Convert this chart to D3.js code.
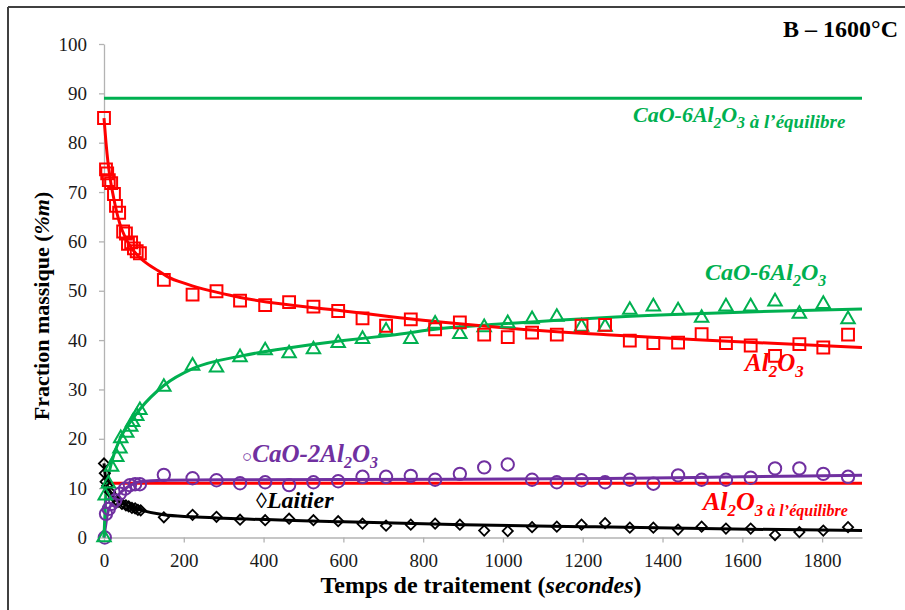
<!DOCTYPE html>
<html>
<head>
<meta charset="utf-8">
<script src="https://cdn.jsdelivr.net/npm/d3@7"></script>
<style>
  html, body { margin: 0; padding: 0; background: #fff; }
  svg { display: block; font-family: "Liberation Serif", "Times New Roman", serif; }
  .axis path, .axis line { stroke: #b3b3b3; stroke-width: 1.3; }
  .axis text { font-size: 19px; fill: #1a1a1a; font-family: "Liberation Serif", serif; }
</style>
</head>
<body>
<div id="chart"></div>
<script>
// measured points: [time (s), mass fraction (%m)]
const al2o3Points = [
  [0, 85], [5, 74.6], [8, 73.8], [12, 72.4], [18, 71.8], [25, 69.6], [30, 67.2],
  [38, 65.8], [48, 62.0], [55, 61.6], [60, 59.5], [68, 59.8], [75, 58.6], [82, 58.0], [90, 57.6],
  [150, 52.2], [222, 49.2], [282, 49.9], [341, 48.0], [404, 47.1], [464, 47.7], [525, 46.8],
  [587, 45.9], [648, 44.4], [707, 42.9], [769, 44.2], [830, 42.2], [892, 43.6], [953, 41.1],
  [1012, 40.6], [1073, 41.5], [1135, 41.1], [1197, 42.9], [1256, 43.1], [1318, 39.9],
  [1377, 39.4], [1439, 39.5], [1498, 41.2], [1559, 39.4], [1621, 38.9], [1682, 36.8],
  [1743, 39.2], [1803, 38.5], [1865, 41.1]
];
const ca6Points = [
  [0, 0], [3, 8.5], [11, 10.9], [19, 14.3], [32, 16.3], [40, 18.0], [42, 20.1], [57, 21.2],
  [67, 22.4], [72, 23.4], [82, 24.6], [90, 25.8],
  [150, 30.5], [222, 34.8], [282, 34.4], [341, 36.5], [404, 37.9], [464, 37.3], [525, 38.1],
  [587, 39.4], [648, 40.2], [707, 41.9], [769, 40.2], [830, 43.3], [892, 41.2], [953, 42.6],
  [1012, 43.4], [1073, 44.2], [1135, 44.7], [1197, 42.7], [1256, 42.7], [1318, 46.1],
  [1377, 46.8], [1439, 46.0], [1498, 44.5], [1559, 46.8], [1621, 46.8], [1682, 47.8],
  [1743, 45.3], [1803, 47.3], [1865, 44.2]
];
const ca2Points = [
  [2, 0], [5, 4.8], [12, 5.8], [19, 6.8], [28, 7.5], [40, 8.9], [53, 9.9], [65, 10.6],
  [78, 10.8], [90, 10.8],
  [150, 12.7], [222, 12.0], [282, 11.6], [341, 11.0], [404, 11.2], [464, 10.6], [525, 11.2],
  [587, 11.4], [648, 12.3], [707, 12.3], [769, 12.5], [830, 11.7], [892, 12.9], [953, 14.2],
  [1012, 14.8], [1073, 11.7], [1135, 11.2], [1197, 11.6], [1256, 11.2], [1318, 11.7],
  [1377, 10.9], [1439, 12.6], [1498, 11.7], [1559, 11.7], [1621, 12.1], [1682, 14.0],
  [1743, 14.0], [1803, 12.9], [1865, 12.3]
];
const slagPoints = [
  [0, 15], [2, 13], [4, 11.3], [8, 10.5], [15, 9.2], [25, 8.2], [35, 7.2], [45, 6.8],
  [55, 6.5], [62, 6.3], [70, 6.0], [78, 5.9], [85, 5.6], [92, 5.5],
  [150, 4.1], [222, 4.6], [282, 4.2], [341, 3.6], [404, 3.5], [464, 3.8], [525, 3.5],
  [587, 3.3], [648, 2.8], [707, 2.4], [769, 2.6], [830, 2.8], [892, 2.6], [953, 1.4],
  [1012, 1.3], [1073, 2.1], [1135, 2.2], [1197, 2.6], [1256, 2.9], [1318, 2.0], [1377, 2.0],
  [1439, 1.6], [1498, 2.2], [1559, 1.8], [1621, 1.8], [1682, 0.5], [1743, 1.1], [1803, 1.4],
  [1865, 2.1]
];

// fitted trend curves
const al2o3Fit = [
  [0, 85], [5, 80], [10, 76], [15, 73], [25, 68.5], [40, 63.5], [55, 60.5], [75, 58],
  [100, 56], [137, 54], [160, 52.8], [210, 51.3], [345, 48.6], [600, 45.9], [850, 43.6],
  [1000, 42.5], [1260, 41.1], [1500, 40], [1900, 38.5]
];
const ca6Fit = [
  [0, 0], [5, 9], [10, 12], [20, 15.5], [30, 18], [40, 20], [60, 22.7], [90, 26],
  [150, 30.8], [225, 34.3], [345, 36.8], [470, 38.5], [600, 39.9], [720, 41], [850, 42.4],
  [1000, 43.3], [1260, 44.6], [1500, 45.4], [1700, 45.9], [1900, 46.3]
];
const ca2Fit = [
  [0, 0], [10, 5.2], [20, 6.8], [40, 9], [60, 10.3], [90, 11.3], [150, 11.6], [300, 11.7],
  [900, 11.8], [1260, 11.95], [1600, 12.3], [1900, 12.6]
];
const slagFit = [
  [0, 15], [5, 11.5], [10, 10.2], [20, 8.8], [40, 7.2], [60, 6.4], [90, 5.6], [150, 4.6],
  [220, 4.2], [300, 3.9], [600, 3.2], [900, 2.6], [1200, 2.2], [1500, 1.8], [1900, 1.4]
];

// equilibrium levels
const ca6Equilibrium = [[0, 89], [1900, 89]];
const al2o3Equilibrium = [[0, 11], [1900, 11]];

const xTicks = [0, 200, 400, 600, 800, 1000, 1200, 1400, 1600, 1800];
const yTicks = [0, 10, 20, 30, 40, 50, 60, 70, 80, 90, 100];

const GREEN = "#00b050";
const RED = "#ff0000";
const PURPLE = "#7030a0";
const BLACK = "#000000";

const width = 905;
const height = 610;

const svg = d3.select("#chart").append("svg")
  .attr("width", width)
  .attr("height", height);

svg.append("rect").attr("width", width).attr("height", height).attr("fill", "#fff");

// frame (only top and left edges are visible in the crop)
svg.append("line").attr("x1", 8).attr("x2", width).attr("y1", 7).attr("y2", 7)
  .attr("stroke", "#404040").attr("stroke-width", 2);
svg.append("line").attr("x1", 8).attr("x2", 8).attr("y1", 7).attr("y2", height)
  .attr("stroke", "#404040").attr("stroke-width", 2);

const x = d3.scaleLinear().domain([0, 1900]).range([104, 862]);
const y = d3.scaleLinear().domain([0, 100]).range([537.5, 44]);

svg.append("g")
  .attr("class", "axis")
  .attr("transform", `translate(0,${y(0)})`)
  .call(d3.axisBottom(x).tickValues(xTicks).tickFormat(d3.format("d"))
    .tickSize(5).tickSizeOuter(0).tickPadding(11))
  .attr("font-family", "Liberation Serif");

svg.append("g")
  .attr("class", "axis")
  .attr("transform", `translate(${x(0)},0)`)
  .call(d3.axisLeft(y).tickValues(yTicks).tickFormat(d3.format("d"))
    .tickSize(5).tickSizeOuter(0).tickPadding(12))
  .attr("font-family", "Liberation Serif");

const line = d3.line()
  .x((d) => x(d[0]))
  .y((d) => y(d[1]))
  .curve(d3.curveMonotoneX);

const lines = [
  { data: ca6Equilibrium, color: GREEN },
  { data: al2o3Equilibrium, color: RED },
  { data: ca2Fit, color: PURPLE },
  { data: slagFit, color: BLACK },
  { data: ca6Fit, color: GREEN },
  { data: al2o3Fit, color: RED },
];

svg.append("g")
  .selectAll("path")
  .data(lines)
  .join("path")
  .attr("d", (s) => line(s.data))
  .attr("fill", "none")
  .attr("stroke", (s) => s.color)
  .attr("stroke-width", 3);

const markerSets = [
  { data: slagPoints, color: BLACK, shape: d3.symbolSquare, size: 52, rotate: 45, width: 1.8 },
  { data: ca2Points, color: PURPLE, shape: d3.symbolCircle, size: 120, rotate: 0, width: 2 },
  { data: ca6Points, color: GREEN, shape: d3.symbolTriangle, size: 78, rotate: 0, width: 2 },
  { data: al2o3Points, color: RED, shape: d3.symbolSquare, size: 140, rotate: 0, width: 2 },
];

markerSets.forEach((set) => {
  svg.append("g")
    .selectAll("path")
    .data(set.data)
    .join("path")
    .attr("d", d3.symbol(set.shape, set.size))
    .attr("transform", (d) => `translate(${x(d[0])},${y(d[1])}) rotate(${set.rotate})`)
    .attr("fill", "none")
    .attr("stroke", set.color)
    .attr("stroke-width", set.width);
});

// rich text labels: segments with optional subscript
function richLabel(px, py, color, segments) {
  const text = svg.append("text")
    .attr("x", px)
    .attr("y", py)
    .attr("fill", color)
    .attr("font-weight", "bold")
    .attr("font-style", "italic");
  let shifted = 0;
  segments.forEach((seg) => {
    const target = seg.sub ? 6 : 0;
    text.append("tspan")
      .attr("dy", target - shifted)
      .attr("font-size", seg.size)
      .attr("font-style", seg.normal ? "normal" : "italic")
      .text(seg.t);
    shifted = target;
  });
  return text;
}

richLabel(633, 122, GREEN, [
  { t: "CaO-6Al", size: 22 },
  { t: "2", size: 15, sub: true },
  { t: "O", size: 22 },
  { t: "3", size: 16, sub: true },
  { t: " à l’équilibre", size: 19, sub: true },
]);

richLabel(705, 280, GREEN, [
  { t: "CaO-6Al", size: 24 },
  { t: "2", size: 16, sub: true },
  { t: "O", size: 24 },
  { t: "3", size: 16, sub: true },
]);

richLabel(745, 371, RED, [
  { t: "Al", size: 25 },
  { t: "2", size: 17, sub: true },
  { t: "O", size: 25 },
  { t: "3", size: 17, sub: true },
]);

richLabel(242, 462, PURPLE, [
  { t: "○", size: 17, normal: true },
  { t: "CaO-2Al", size: 25 },
  { t: "2", size: 16, sub: true },
  { t: "O", size: 25 },
  { t: "3", size: 16, sub: true },
]);

richLabel(256, 508, BLACK, [
  { t: "◊", size: 22, normal: true },
  { t: "Laitier", size: 24 },
]);

richLabel(703, 510, RED, [
  { t: "Al", size: 26 },
  { t: "2", size: 17, sub: true },
  { t: "O", size: 26 },
  { t: "3", size: 17, sub: true },
  { t: " à l’équilibre", size: 16, sub: true },
]);

// title
svg.append("text")
  .attr("x", 898)
  .attr("y", 37)
  .attr("text-anchor", "end")
  .attr("font-size", 24)
  .attr("font-weight", "bold")
  .text("B – 1600°C");

// axis titles
const xTitle = svg.append("text")
  .attr("x", 481)
  .attr("y", 593)
  .attr("text-anchor", "middle")
  .attr("font-size", 24)
  .attr("font-weight", "bold");
xTitle.append("tspan").text("Temps de traitement (");
xTitle.append("tspan").attr("font-style", "italic").text("secondes");
xTitle.append("tspan").text(")");

const yTitle = svg.append("text")
  .attr("transform", "translate(49,306) rotate(-90)")
  .attr("text-anchor", "middle")
  .attr("font-size", 22)
  .attr("font-weight", "bold");
yTitle.append("tspan").text("Fraction massique (");
yTitle.append("tspan").attr("font-style", "italic").text("%m");
yTitle.append("tspan").text(")");
</script>
</body>
</html>
